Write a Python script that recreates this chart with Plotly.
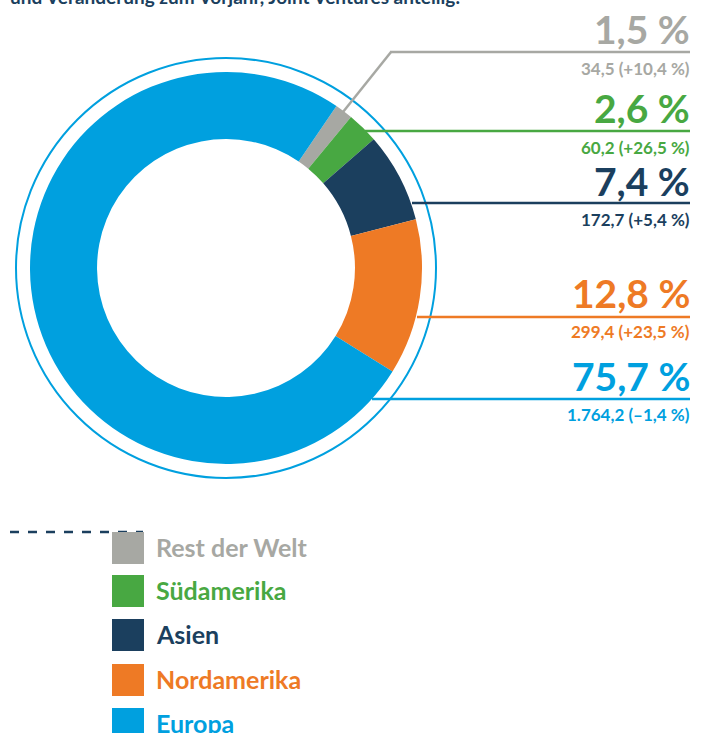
import plotly.graph_objects as go

# ---- data ----
regions = ["Rest der Welt", "Südamerika", "Asien", "Nordamerika", "Europa"]
values = [34.5, 60.2, 172.7, 299.4, 1764.2]
value_labels = ["34,5", "60,2", "172,7", "299,4", "1.764,2"]
share_labels = ["1,5 %", "2,6 %", "7,4 %", "12,8 %", "75,7 %"]
change_labels = ["+10,4 %", "+26,5 %", "+5,4 %", "+23,5 %", "–1,4 %"]
colors = ["#A7A8A3", "#48A842", "#1B3F5E", "#EE7A25", "#00A0DF"]
header = "und Veränderung zum Vorjahr, Joint Ventures anteilig."

W, H = 702, 733
FONT = "Lato"


def px(x):
    return x / W


def py(y):
    return 1 - y / H


cx, cy, R = 226, 268, 196

fig = go.Figure()
fig.add_trace(go.Pie(
    labels=regions, values=values, sort=False, direction="clockwise",
    rotation=34.3, hole=0.658, textinfo="none",
    marker=dict(colors=colors, line=dict(width=0)),
    domain=dict(x=[px(cx - R), px(cx + R)], y=[py(cy + R), py(cy - R)]),
    showlegend=False,
))

shapes = []
annotations = []

# outer ring
shapes.append(dict(type="circle", xref="paper", yref="paper",
                   x0=px(cx - 210), x1=px(cx + 210), y0=py(cy + 210), y1=py(cy - 210),
                   line=dict(color="#00A0DF", width=2)))

# leader lines
lead = [
    (390, 52, 690), (365, 131, 690), (412, 203, 690), (417, 317, 690), (372, 399, 690)
]
for i, (x0, y, x1) in enumerate(lead):
    shapes.append(dict(type="line", xref="paper", yref="paper",
                       x0=px(x0), x1=px(x1), y0=py(y), y1=py(y),
                       line=dict(color=colors[i], width=2.5)))
# grey diagonal
shapes.append(dict(type="line", xref="paper", yref="paper",
                   x0=px(343), y0=py(112), x1=px(391), y1=py(52),
                   line=dict(color=colors[0], width=2.5)))

big_y = [29, 108.5, 181, 293, 376]
small_y = [69, 147, 219, 332, 414]
for i in range(len(regions)):
    annotations.append(dict(xref="paper", yref="paper", x=px(692), y=py(big_y[i]),
                            xanchor="right", yanchor="middle", showarrow=False,
                            text=share_labels[i],
                            font=dict(family=FONT, size=39, color=colors[i], weight=700)))
    annotations.append(dict(xref="paper", yref="paper", x=px(692), y=py(small_y[i]),
                            xanchor="right", yanchor="middle", showarrow=False,
                            text=f"{value_labels[i]} ({change_labels[i]})",
                            font=dict(family=FONT, size=17, color=colors[i], weight=700)))

# legend
shapes.append(dict(type="line", xref="paper", yref="paper",
                   x0=px(10), x1=px(143), y0=py(532), y1=py(532),
                   line=dict(color="#1B3F5E", width=2.5, dash="dash")))
leg_top = [532, 575, 619, 664, 708]
for i in range(len(regions)):
    t = leg_top[i]
    shapes.append(dict(type="rect", xref="paper", yref="paper",
                       x0=px(112), x1=px(144), y0=py(t + 32), y1=py(t),
                       fillcolor=colors[i], line=dict(width=0)))
    annotations.append(dict(xref="paper", yref="paper", x=px(154), y=py(t + 15),
                            xanchor="left", yanchor="middle", showarrow=False,
                            text=regions[i],
                            font=dict(family=FONT, size=25, color=colors[i], weight=700)))

# header (cut off at top)
annotations.append(dict(xref="paper", yref="paper", x=px(8), y=py(-4),
                        xanchor="left", yanchor="middle", showarrow=False,
                        text=header,
                        font=dict(family=FONT, size=19, color="#1B3F5E", weight=700)))

fig.update_layout(
    width=W, height=H, margin=dict(l=0, r=0, t=0, b=0),
    paper_bgcolor="white", plot_bgcolor="white",
    shapes=shapes, annotations=annotations, showlegend=False,
)

fig.write_html("out.html", config={"displayModeBar": False},
               post_script="document.body.style.margin='0';document.body.style.overflow='hidden';")
